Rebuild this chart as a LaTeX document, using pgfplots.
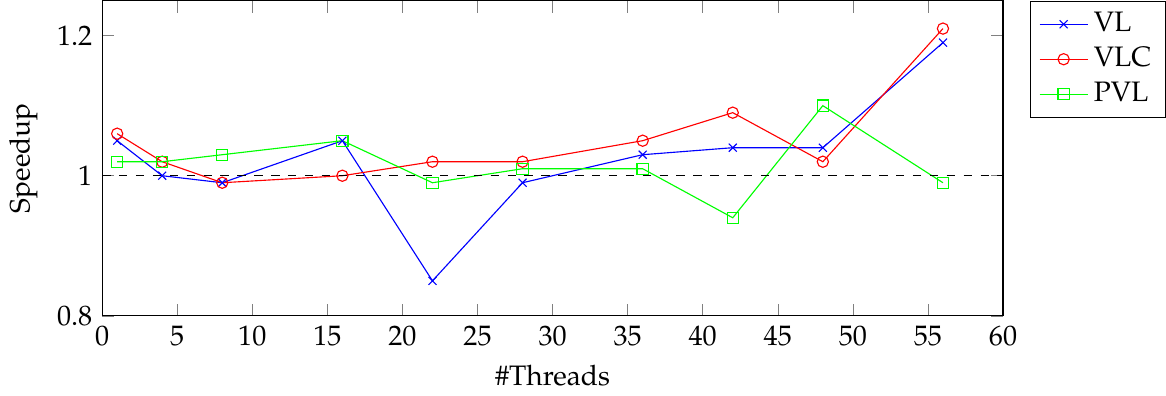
\documentclass[border=0pt]{standalone}
\usepackage[T1]{fontenc}
\usepackage{mathpazo}
\usepackage{pgfplots}
\pgfplotsset{compat=1.18}
\begin{document}
\begin{tikzpicture}
\begin{axis}[
  scale only axis,
  width=320pt, height=112pt,
  xmin=0, xmax=60, ymin=0.8, ymax=1.25,
  xtick={0,5,...,60},
  ytick={0.8,1,1.2},
  xlabel={\#Threads}, ylabel={Speedup},
  legend pos=outer north east,
  legend cell align=left,
  /pgf/number format/assume math mode=true,
]
\addplot[blue, mark=x] coordinates {(1,1.05) (4,1.00) (8,0.99) (16,1.05) (22,0.85) (28,0.99) (36,1.03) (42,1.04) (48,1.04) (56,1.19)};
\addlegendentry{VL}
\addplot[red, mark=o] coordinates {(1,1.06) (4,1.02) (8,0.99) (16,1.00) (22,1.02) (28,1.02) (36,1.05) (42,1.09) (48,1.02) (56,1.21)};
\addlegendentry{VLC}
\addplot[green, mark=square] coordinates {(1,1.02) (4,1.02) (8,1.03) (16,1.05) (22,0.99) (28,1.01) (36,1.01) (42,0.94) (48,1.10) (56,0.99)};
\addlegendentry{PVL}
\addplot[black, dashed, forget plot] coordinates {(0,1) (60,1)};
\end{axis}
\end{tikzpicture}
\end{document}
